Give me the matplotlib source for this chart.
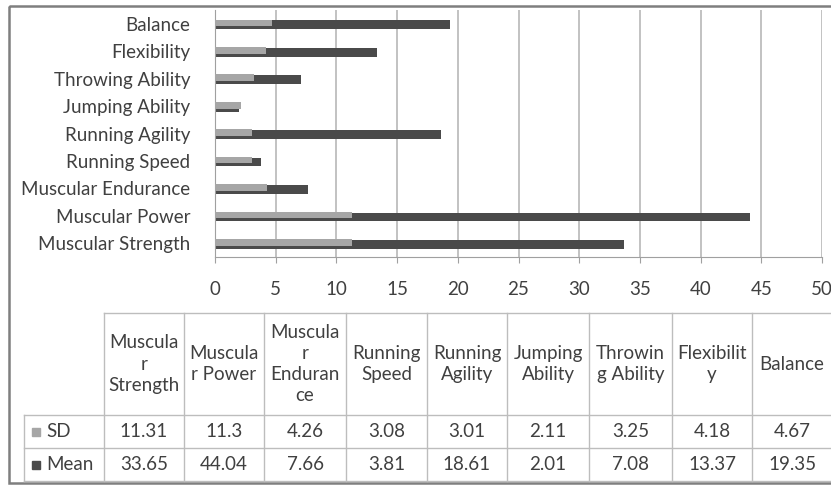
import matplotlib
matplotlib.use("Agg")
import matplotlib.pyplot as plt
from matplotlib.patches import Rectangle

categories = ["Muscular Strength", "Muscular Power", "Muscular Endurance", "Running Speed",
              "Running Agility", "Jumping Ability", "Throwing Ability", "Flexibility", "Balance"]
header_labels = ["Muscula\nr\nStrength", "Muscula\nr Power", "Muscula\nr\nEnduran\nce", "Running\nSpeed",
                 "Running\nAgility", "Jumping\nAbility", "Throwin\ng Ability", "Flexibilit\ny", "Balance"]
sd = [11.31, 11.3, 4.26, 3.08, 3.01, 2.11, 3.25, 4.18, 4.67]
mean = [33.65, 44.04, 7.66, 3.81, 18.61, 2.01, 7.08, 13.37, 19.35]
sd_text = ["11.31", "11.3", "4.26", "3.08", "3.01", "2.11", "3.25", "4.18", "4.67"]
mean_text = ["33.65", "44.04", "7.66", "3.81", "18.61", "2.01", "7.08", "13.37", "19.35"]
xticks = [0, 5, 10, 15, 20, 25, 30, 35, 40, 45, 50]

plt.rcParams['font.family'] = ['Lato', 'DejaVu Sans']
W, H = 831, 486
fig = plt.figure(figsize=(W / 100, H / 100), dpi=100)
TXT = "#404040"
SD_C = "#a6a6a6"
MEAN_C = "#4a4a4a"
FS = 13.5

# overlay axes in pixel coordinates for border and table
ov = fig.add_axes([0, 0, 1, 1])
ov.set_xlim(0, W)
ov.set_ylim(H, 0)
ov.axis("off")
ov.add_patch(Rectangle((8.5, 6), W + 5, 477, fill=False, edgecolor="#7f7f7f", lw=1.8))

# bar axes
x0, x1, yt, yb = 215, 822, 10, 257
ax = fig.add_axes([x0 / W, 1 - yb / H, (x1 - x0) / W, (yb - yt) / H])
ypos = list(range(len(categories)))
ax.barh([y - 0.04 for y in ypos], mean, height=0.32, color=MEAN_C, zorder=2)
ax.barh([y + 0.03 for y in ypos], sd, height=0.24, color=SD_C, zorder=3)
ax.set_xlim(0, 50)
ax.set_ylim(-0.5, len(categories) - 0.5)
ax.set_xticks(xticks)
ax.set_yticks(ypos)
ax.set_yticklabels(categories, fontsize=FS, color=TXT)
ax.set_xticklabels([str(t) for t in xticks], fontsize=FS, color=TXT)
ax.tick_params(axis="y", length=0, pad=18)
ax.tick_params(axis="x", length=4, color="#a0a0a0", pad=13, direction="out")
ax.grid(axis="x", color="#b8b8b8", lw=1.2, zorder=0)
for s in ["top", "right"]:
    ax.spines[s].set_visible(False)
ax.spines["left"].set_color("#a0a0a0")
ax.spines["bottom"].set_color("#a0a0a0")

# table
col_edges = [104, 184, 264, 346, 427, 507, 589, 672, 752, 832]
row_left = 24
y_top, y_head, y_sd, y_mean = 313, 415, 448, 481
LC = "#bdbdbd"
lw = 1.0
ov.plot([col_edges[0], col_edges[-1]], [y_top, y_top], color=LC, lw=lw)
for yy in (y_head, y_sd, y_mean):
    ov.plot([row_left, col_edges[-1]], [yy, yy], color=LC, lw=lw)
for xx in col_edges:
    ov.plot([xx, xx], [y_top, y_mean], color=LC, lw=lw)
ov.plot([row_left, row_left], [y_head, y_mean], color=LC, lw=lw)

for i in range(len(categories)):
    cx = (col_edges[i] + col_edges[i + 1]) / 2
    ov.text(cx, (y_top + y_head) / 2, header_labels[i], ha="center", va="center",
            fontsize=FS, color=TXT, linespacing=1.3)
    ov.text(cx, (y_head + y_sd) / 2, sd_text[i], ha="center", va="center", fontsize=FS, color=TXT)
    ov.text(cx, (y_sd + y_mean) / 2, mean_text[i], ha="center", va="center", fontsize=FS, color=TXT)

for yc, label, c in (((y_head + y_sd) / 2, "SD", SD_C), ((y_sd + y_mean) / 2, "Mean", MEAN_C)):
    ov.add_patch(Rectangle((32, yc - 4), 8, 8, color=c))
    ov.text(46, yc, label, ha="left", va="center", fontsize=FS, color=TXT)

fig.savefig("out.png", dpi=100)
